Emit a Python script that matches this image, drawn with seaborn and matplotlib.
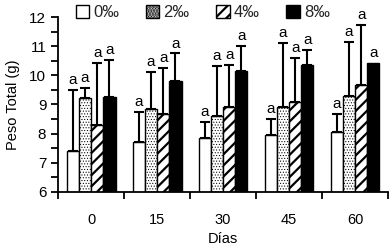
import numpy as np
import pandas as pd
import seaborn as sns
import matplotlib.pyplot as plt
from matplotlib.patches import Patch
from matplotlib.ticker import MultipleLocator, FixedLocator

# data
DIAS = ["0", "15", "30", "45", "60"]
CONC = ["0‰", "2‰", "4‰", "8‰"]
MEAN_0 = [7.41, 7.70, 7.84, 7.95, 8.07]
MEAN_2 = [9.23, 8.83, 8.60, 8.90, 9.29]
MEAN_4 = [8.30, 8.67, 8.90, 9.07, 9.66]
MEAN_8 = [9.24, 9.80, 10.14, 10.35, 10.43]
ERR_0 = [2.08, 1.05, 0.57, 0.55, 0.60]
ERR_2 = [0.34, 1.29, 1.72, 2.20, 1.86]
ERR_4 = [2.11, 1.59, 1.45, 1.54, 2.08]
ERR_8 = [1.30, 0.95, 0.86, 0.51, 0.0]
LETTERS = ["a"] * 20

means = [MEAN_0, MEAN_2, MEAN_4, MEAN_8]
errs = [ERR_0, ERR_2, ERR_4, ERR_8]

rows = []
for c, m, e in zip(CONC, means, errs):
    for d, mv, ev in zip(DIAS, m, e):
        rows.append({"Días": d, "conc": c, "peso": mv, "err": ev})
df = pd.DataFrame(rows)

sns.set_theme(style="ticks")
plt.rcParams["font.family"] = ["Liberation Sans", "DejaVu Sans"]
plt.rcParams["hatch.linewidth"] = 1.6

FACES = ["white", "white", "white", "black"]
HATCHES = ["", "......", "///", ""]
HATCH_LW = [1.0, 0.45, 1.6, 1.0]


def style_patch(p, h):
    p.set_hatch(HATCHES[h])
    p.set_edgecolor("black")
    if hasattr(p, "set_hatch_linewidth"):
        p.set_hatch_linewidth(HATCH_LW[h])


fig = plt.figure(figsize=(3.9, 2.47), dpi=100)
ax = fig.add_axes([0.149, 0.223, 0.846, 0.708])

sns.barplot(data=df, x="Días", y="peso", hue="conc", order=DIAS, hue_order=CONC,
            palette=FACES, saturation=1, width=0.74, edgecolor="black",
            linewidth=1.0, errorbar=None, legend=False, ax=ax)

bars = [p for p in ax.patches]
for i, p in enumerate(bars):
    style_patch(p, i // len(DIAS))

for i, p in enumerate(bars):
    h = i // len(DIAS)
    k = i % len(DIAS)
    xc = p.get_x() + p.get_width() / 2
    top = means[h][k]
    e = errs[h][k]
    if e > 0:
        ax.errorbar(xc, top, yerr=[[0], [e]], fmt="none", ecolor="black",
                    elinewidth=1.5, capsize=3.5, capthick=1.5, zorder=3)
    ax.text(xc, top + e + 0.1, LETTERS[i], ha="center", va="bottom",
            fontsize=11, color="black", clip_on=False)

ax.set_ylim(6, 12)
ax.set_xlim(-0.5, 4.5)
ax.yaxis.set_major_locator(MultipleLocator(1))
ax.yaxis.set_minor_locator(MultipleLocator(0.5))
ax.xaxis.set_minor_locator(FixedLocator(np.arange(-0.5, 5.0, 1.0)))
ax.tick_params(axis="x", which="major", length=0, labelsize=10.5, pad=15, colors="black")
ax.tick_params(axis="x", which="minor", length=5, width=1.3, direction="out", color="black")
ax.tick_params(axis="y", which="both", length=5, width=1.3, direction="out",
               labelsize=11, colors="black")
for s in ["top", "right"]:
    ax.spines[s].set_visible(False)
for s in ["left", "bottom"]:
    ax.spines[s].set_linewidth(1.3)
    ax.spines[s].set_color("black")

ax.set_ylabel("Peso Total (g)", fontsize=10.5, labelpad=7, color="black")
ax.set_xlabel("Días", fontsize=10.5, labelpad=4, color="black")

handles = [Patch(facecolor=f, edgecolor="black", hatch=h, linewidth=1.0)
           for f, h in zip(FACES, HATCHES)]
for h, hp in enumerate(handles):
    style_patch(hp, h)
fig.legend(handles, CONC, loc="center", bbox_to_anchor=(0.52, 0.95), ncol=4,
           frameon=False, fontsize=12, handlelength=0.8, handleheight=0.8,
           handletextpad=0.25, columnspacing=1.6, borderpad=0)

fig.savefig("out.png", dpi=100)
